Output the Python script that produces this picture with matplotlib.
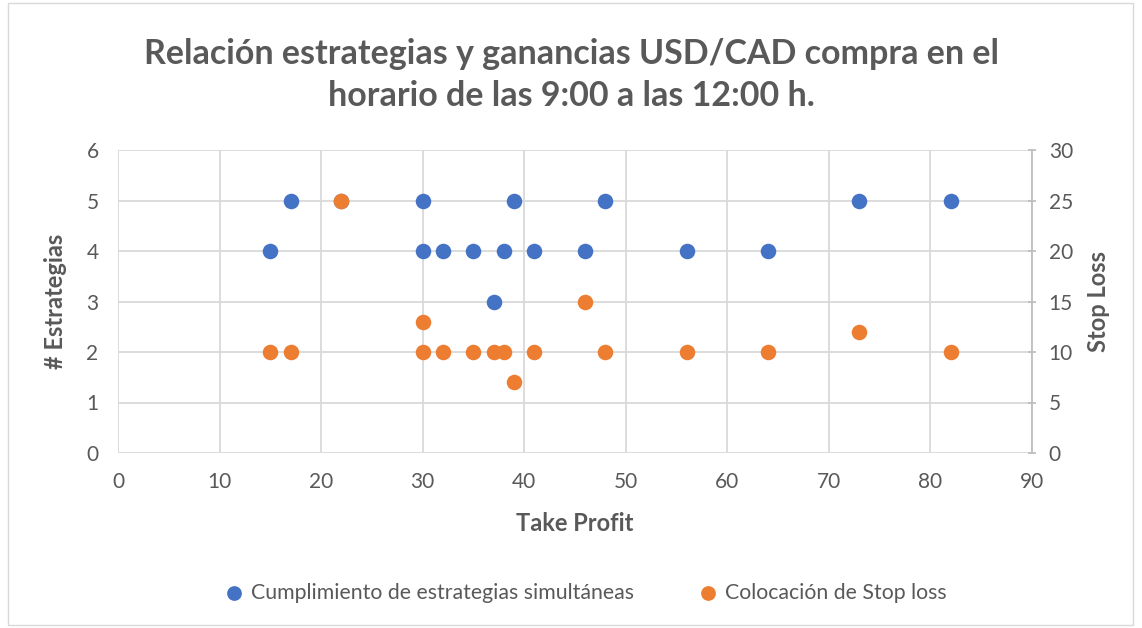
import matplotlib
matplotlib.use("Agg")
import matplotlib.pyplot as plt
from matplotlib.patches import Rectangle

# Take Profit values (x) and the two series
take_profit = [15, 17, 22, 30, 30, 32, 35, 37, 38, 39, 41, 46, 48, 56, 64, 73, 82]
estrategias = [4, 5, 5, 5, 4, 4, 4, 3, 4, 5, 4, 4, 5, 4, 4, 5, 5]
stop_loss = [10, 10, 25, 13, 10, 10, 10, 10, 10, 7, 10, 15, 10, 10, 10, 12, 10]

blue = "#4472C4"
orange = "#ED7D31"
grey_txt = "#595959"
grid_c = "#D9D9D9"

plt.rcParams['font.family'] = ['Lato', 'DejaVu Sans']

fig = plt.figure(figsize=(11.42, 6.28), dpi=100)
fig.patches.append(Rectangle((8 / 1142, 3 / 628), 1125 / 1142, 622 / 628,
                             transform=fig.transFigure, fill=False,
                             edgecolor=grid_c, linewidth=1))

ax = fig.add_axes([118 / 1142, 1 - 453 / 628, 914 / 1142, 303 / 628])
ax2 = ax.twinx()

ax.set_xlim(0, 90)
ax.set_ylim(0, 6)
ax2.set_ylim(0, 30)
ax.set_xticks(range(0, 91, 10))
ax.set_yticks(range(0, 7))
ax2.set_yticks(range(0, 31, 5))

ax.grid(True, color=grid_c, linewidth=1.3)
ax.set_axisbelow(True)
for sp in ax.spines.values():
    sp.set_visible(False)
for sp in ax2.spines.values():
    sp.set_visible(False)
ax2.spines['right'].set_visible(True)
ax2.spines['right'].set_color("#BFBFBF")
ax2.spines['right'].set_linewidth(1.3)

ax.tick_params(axis='x', length=0, labelsize=15, labelcolor=grey_txt, pad=14)
ax.tick_params(axis='y', length=0, labelsize=15, labelcolor=grey_txt, pad=14)
ax2.tick_params(axis='y', length=6, color="#BFBFBF", width=1.3, direction='inout',
                labelsize=15, labelcolor=grey_txt, pad=9)

s1 = ax.scatter(take_profit, estrategias, s=125, color=blue, zorder=3, linewidths=0,
                label="Cumplimiento de estrategias simultáneas")
s2 = ax2.scatter(take_profit, stop_loss, s=125, color=orange, zorder=3, linewidths=0,
                 label="Colocación de Stop loss")

ax.set_xlabel("Take Profit", fontsize=17, fontweight='bold', color=grey_txt, labelpad=14)
ax.set_ylabel("# Estrategias", fontsize=17, fontweight='bold', color=grey_txt, labelpad=14)
ax2.set_ylabel("Stop Loss", fontsize=17, fontweight='bold', color=grey_txt, labelpad=10)

fig.text(0.5, 1 - 75 / 628, "Relación estrategias y ganancias USD/CAD compra en el\nhorario de las 9:00 a las 12:00 h.",
         ha='center', va='center', fontsize=24.5, fontweight='bold', color=grey_txt,
         linespacing=1.42)

fig.legend(handles=[s1, s2], loc='center', bbox_to_anchor=(0.512, 1 - 593 / 628),
           ncol=2, frameon=False, fontsize=15.3, labelcolor=grey_txt,
           handlelength=1.0, handletextpad=0.3, columnspacing=3.0, markerscale=0.95)

fig.savefig("out.png", dpi=100)
